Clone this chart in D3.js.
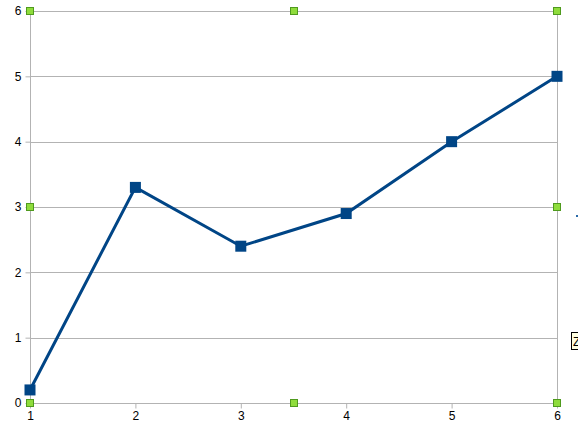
<!DOCTYPE html>
<html><head><meta charset="utf-8">
<script src="https://cdn.jsdelivr.net/npm/d3@7"></script>
<style>body{margin:0;background:#fff}svg{display:block}</style>
</head><body>
<script>
const xValues = [1, 2, 3, 4, 5, 6];
const yValues = [0.2, 3.3, 2.4, 2.9, 4.0, 5.0];
const xTicks = [1, 2, 3, 4, 5, 6];
const yTicks = [0, 1, 2, 3, 4, 5, 6];

const W = 578, H = 434;
const L = 30, R = 557, T = 11, B = 403;
const svg = d3.select("body").append("svg").attr("width", W).attr("height", H);
const x = d3.scaleLinear().domain([1, 6]).range([L, R]);
const y = d3.scaleLinear().domain([0, 6]).range([B, T]);
const font = "'Liberation Sans', Arial, sans-serif";

// horizontal gridlines
svg.append("g").selectAll("line").data(yTicks).join("line")
  .attr("x1", L).attr("x2", R).attr("y1", d => Math.round(y(d)) + 0.5).attr("y2", d => Math.round(y(d)) + 0.5)
  .attr("stroke", "#b3b3b3").attr("stroke-width", 1);
// plot side borders
[L, R].forEach(px => svg.append("line").attr("x1", px + 0.5).attr("x2", px + 0.5).attr("y1", T).attr("y2", B)
  .attr("stroke", "#b3b3b3"));

// axes
const yAxis = svg.append("g").attr("transform", `translate(${L + 0.5},0)`)
  .call(d3.axisLeft(y).tickValues(yTicks).tickSize(5).tickPadding(4).tickFormat(d3.format("d")));
const xAxis = svg.append("g").attr("transform", `translate(0,${B + 0.5})`)
  .call(d3.axisBottom(x).tickValues(xTicks).tickSize(5).tickPadding(3).tickFormat(d3.format("d")));
[yAxis, xAxis].forEach(a => {
  a.select(".domain").remove();
  a.selectAll("line").attr("stroke", "#b3b3b3");
  a.selectAll("text").attr("fill", "#000").style("font-family", font).style("font-size", "12px");
});

// line
const pts = xValues.map((v, i) => [v, yValues[i]]);
svg.append("path").datum(pts)
  .attr("d", d3.line().x(d => x(d[0])).y(d => y(d[1])))
  .attr("fill", "none").attr("stroke", "#004586").attr("stroke-width", 3).attr("stroke-linejoin", "miter");
svg.append("g").selectAll("rect").data(pts).join("rect")
  .attr("x", d => x(d[0]) - 5.5).attr("y", d => y(d[1]) - 5.5)
  .attr("width", 11).attr("height", 11).attr("fill", "#004586");

// selection handles
const hx = [L, (L + R) / 2, R], hy = [T, (T + B) / 2, B];
const handles = [];
hy.forEach((py, j) => hx.forEach((px, i) => { if (!(i === 1 && j === 1)) handles.push([px, py]); }));
svg.append("g").selectAll("rect").data(handles).join("rect")
  .attr("x", d => Math.round(d[0]) - 3.5).attr("y", d => Math.round(d[1]) - 3.5)
  .attr("width", 7).attr("height", 7).attr("fill", "#8fdc3c").attr("stroke", "#4f9a1e").attr("stroke-width", 1);

// edge artifacts
svg.append("rect").attr("x", 576).attr("y", 215).attr("width", 2).attr("height", 2).attr("fill", "#2a6aa8");
svg.append("rect").attr("x", 571.5).attr("y", 332.5).attr("width", 10).attr("height", 17)
  .attr("fill", "#ffffe0").attr("stroke", "#000");
svg.append("text").attr("x", 573).attr("y", 346).text("Z").style("font-family", font).style("font-size", "12px");
</script>
</body></html>
